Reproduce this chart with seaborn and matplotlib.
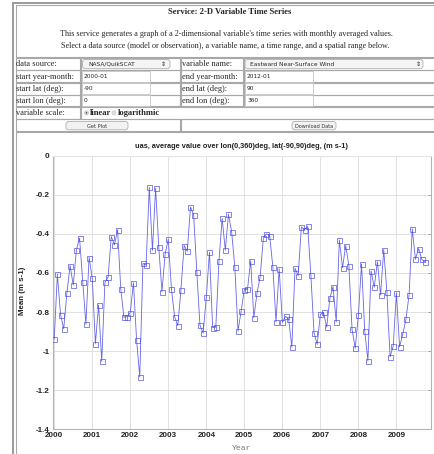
import numpy as np
import pandas as pd
import matplotlib
matplotlib.use("Agg")
import matplotlib.pyplot as plt
from matplotlib.patches import Rectangle, FancyBboxPatch, Circle
import seaborn as sns

# ---------------- data (monthly means, 2000-01 .. 2009-10) ----------------
uas_mean = [
    -0.938, -0.607, -0.814, -0.886, -0.703, -0.562, -0.662, -0.482, -0.422, -0.644, -0.862, -0.521,
    -0.627, -0.961, -0.764, -1.053, -0.648, -0.622, -0.414, -0.456, -0.379, -0.682, -0.827, -0.823,
    -0.803, -0.650, -0.944, -1.132, -0.551, -0.559, -0.161, -0.485, -0.166, -0.468, -0.696, -0.504,
    -0.426, -0.684, -0.824, -0.870, -0.685, -0.460, -0.489, -0.263, -0.301, -0.593, -0.868, -0.908,
    -0.725, -0.494, -0.880, -0.877, -0.538, -0.321, -0.484, -0.299, -0.390, -0.568, -0.897, -0.795,
    -0.685, -0.684, -0.537, -0.829, -0.703, -0.619, -0.422, -0.400, -0.409, -0.568, -0.850, -0.579,
    -0.853, -0.822, -0.836, -0.979, -0.576, -0.614, -0.365, -0.379, -0.362, -0.610, -0.906, -0.966,
    -0.812, -0.802, -0.877, -0.730, -0.670, -0.851, -0.431, -0.573, -0.460, -0.562, -0.889, -0.985,
    -0.815, -0.554, -0.896, -1.050, -0.590, -0.673, -0.542, -0.713, -0.480, -0.696, -1.029, -0.973,
    -0.701, -0.978, -0.914, -0.838, -0.713, -0.374, -0.530, -0.475, -0.530, -0.542,
]
start_year = 2000
year_ticks = [2000, 2001, 2002, 2003, 2004, 2005, 2006, 2007, 2008, 2009]
y_ticks = [0, -0.2, -0.4, -0.6, -0.8, -1, -1.2, -1.4]
y_tick_labels = ["0", "-0.2", "-0.4", "-0.6", "-0.8", "-1", "-1.2", "-1.4"]

chart_title = "uas, average value over lon(0,360)deg, lat(-90,90)deg, (m s-1)"
page_title = "Service: 2-D Variable Time Series"
desc_lines = [
    "This service generates a graph of a 2-dimensional variable's time series with monthly averaged values.",
    "Select a data source (model or observation), a variable name, a time range, and a spatial range below.",
]
form_rows = [
    ("data source:", "NASA/QuikSCAT", "variable name:", "Eastward Near-Surface Wind"),
    ("start year-month:", "2000-01", "end year-month:", "2012-01"),
    ("start lat (deg):", "-90", "end lat (deg):", "90"),
    ("start lon (deg):", "0", "end lon (deg):", "360"),
]

df = pd.DataFrame({
    "t": start_year + np.arange(len(uas_mean)) / 12.0,
    "mean": uas_mean,
})

# ---------------- figure ----------------
sns.set_style("white")
plt.rcParams["font.family"] = ["DejaVu Sans"]
W, H = 434, 454
fig = plt.figure(figsize=(W / 100, H / 100), dpi=100)
fig.patch.set_facecolor("white")

GRAY = "#a8a8a8"


def rect(x0, y0, x1, y1, ec=GRAY, lw=0.8, fc="none", z=1):
    fig.add_artist(Rectangle((x0 / W, 1 - y1 / H), (x1 - x0) / W, (y1 - y0) / H,
                             transform=fig.transFigure, ec=ec, fc=fc, lw=lw, zorder=z))


def rrect(x0, y0, x1, y1, ec="#b0b0b0", fc="#f4f4f4", lw=0.6):
    fig.add_artist(FancyBboxPatch((x0 / W, 1 - y1 / H), (x1 - x0) / W, (y1 - y0) / H,
                                  boxstyle="round,pad=0,rounding_size=0.006",
                                  transform=fig.transFigure, ec=ec, fc=fc, lw=lw, zorder=2))


def txt(x, y, s, **kw):
    fig.text(x / W, 1 - y / H, s, **kw)


SERIF = ["Liberation Serif", "DejaVu Serif"]
SANS = ["Liberation Sans", "DejaVu Sans"]

# outer frame
rect(13, 3, 436, 458, ec="#9a9a9a", lw=1.4)
rect(15.5, 5, 436, 56.5)
txt(230, 12, page_title, family=SERIF, fontsize=6.2, fontweight="bold", ha="center", va="center")
txt(226, 33.5, desc_lines[0], family=SERIF, fontsize=5.85, ha="center", va="center")
txt(225, 45.5, desc_lines[1], family=SERIF, fontsize=5.85, ha="center", va="center")

row_tops = [58, 70.5, 82.5, 94.5, 106.5, 119]
row_h = 12.2
for i, (l1, v1, l2, v2) in enumerate(form_rows):
    y0 = row_tops[i]
    y1 = y0 + row_h
    yc = (y0 + y1) / 2 + 0.3
    rect(15.5, y0, 79.5, y1)
    rect(80.5, y0, 179.5, y1)
    rect(180.5, y0, 242.5, y1)
    rect(243.5, y0, 436, y1)
    txt(16, yc, l1, family=SERIF, fontsize=6.0, va="center")
    txt(181.5, yc, l2, family=SERIF, fontsize=6.0, va="center")
    if i == 0:
        rrect(82.5, y0 + 1.5, 170, y1 - 1.5)
        txt(88, yc, v1, fontsize=4.2, va="center")
        txt(163, yc, "\u21d5", fontsize=4.4, va="center", ha="center")
        rrect(245, y0 + 1.5, 423, y1 - 1.5)
        txt(250, yc, v2, fontsize=4.2, va="center")
        txt(418, yc, "\u21d5", fontsize=4.4, va="center", ha="center")
    else:
        rect(82, y0 + 0.8, 150, y1 - 0.8, ec="#c4c4c4", lw=0.6, fc="white", z=2)
        rect(245, y0 + 0.8, 313, y1 - 0.8, ec="#c4c4c4", lw=0.6, fc="white", z=2)
        txt(84, yc, v1, fontsize=4.2, va="center")
        txt(247, yc, v2, fontsize=4.2, va="center")

# variable scale row
y0 = row_tops[4]
y1 = y0 + row_h
yc = (y0 + y1) / 2 + 0.3
rect(15.5, y0, 79.5, y1)
rect(80.5, y0, 436, y1)
txt(16, yc, "variable scale:", family=SERIF, fontsize=6.0, va="center")
fig.add_artist(Circle((86.5 / W, 1 - yc / H), 2.0 / W, transform=fig.transFigure,
                      fc="#e6e6e6", ec="#b0b0b0", lw=0.4, zorder=3))
fig.add_artist(Circle((86.5 / W, 1 - yc / H), 0.8 / W, transform=fig.transFigure,
                      fc="#444444", ec="none", zorder=4))
txt(90, yc, "linear", family=SERIF, fontsize=6.1, fontweight="bold", va="center")
fig.add_artist(Circle((114 / W, 1 - yc / H), 2.0 / W, transform=fig.transFigure,
                      fc="#e0e0e0", ec="#c0c0c0", lw=0.4, zorder=3))
txt(117.5, yc, "logarithmic", family=SERIF, fontsize=6.1, fontweight="bold", va="center")

# buttons row
y0 = row_tops[5]
y1 = 131
yc = (y0 + y1) / 2 + 1.5
rect(15.5, y0, 179.5, y1)
rect(180.5, y0, 436, y1)
rrect(66, y0 + 2.5, 128, y1 - 1.2, fc="#f2f2f2")
txt(97, yc, "Get Plot", fontsize=3.6, ha="center", va="center", color="#333333")
rrect(292, y0 + 2.5, 336, y1 - 1.2, fc="#f2f2f2")
txt(314, yc, "Download Data", fontsize=3.6, ha="center", va="center", color="#333333")

# chart cell
rect(15.5, 132, 436, 460)

# ---------------- chart ----------------
ax_l, ax_r, ax_t, ax_b = 52.7, 431.0, 155.7, 429.3
ax = fig.add_axes([ax_l / W, 1 - ax_b / H, (ax_r - ax_l) / W, (ax_b - ax_t) / H])
ax.set_facecolor("white")

blue = "#4a4ae4"
sns.lineplot(data=df, x="t", y="mean", ax=ax, color=blue, linewidth=0.6, alpha=0.85,
             marker="s", markersize=3.6, markerfacecolor="none", markeredgecolor=blue,
             markeredgewidth=0.55, zorder=3)

ax.set_xlim(1999.96, 2009.91)
ax.set_ylim(-1.4, 0)
ax.set_xticks(year_ticks)
ax.set_xticklabels([str(y) for y in year_ticks])
ax.set_yticks(y_ticks)
ax.set_yticklabels(y_tick_labels)
ax.grid(True, color="#dcdcdc", linewidth=0.6)
ax.set_axisbelow(True)
for s in ax.spines.values():
    s.set_color("#b4b4b4")
    s.set_linewidth(0.8)
ax.spines["top"].set_color("#e4e4e4")
ax.tick_params(axis="both", direction="in", length=2.5, width=0.6, color="#9a9a9a",
               labelsize=5.8, pad=2.3, right=True, top=False, labelcolor="#222222")
for lab in ax.get_xticklabels() + ax.get_yticklabels():
    lab.set_fontweight("bold")
    lab.set_family(SANS)

ax.set_xlabel("")
ax.set_ylabel("")
txt(241, 146, chart_title, family=SANS, fontsize=5.35,
    fontweight="bold", ha="center", va="center", color="#222222")
txt(22, 291, "Mean (m s-1)", family=SANS, fontsize=5.7,
    fontweight="bold", ha="center", va="center", rotation=90, color="#222222")
txt(242, 448, "Year", family=["Liberation Mono", "DejaVu Sans Mono"], fontsize=5.9,
    ha="center", va="center", color="#777777")

fig.savefig("out.png", dpi=100, facecolor="white")
